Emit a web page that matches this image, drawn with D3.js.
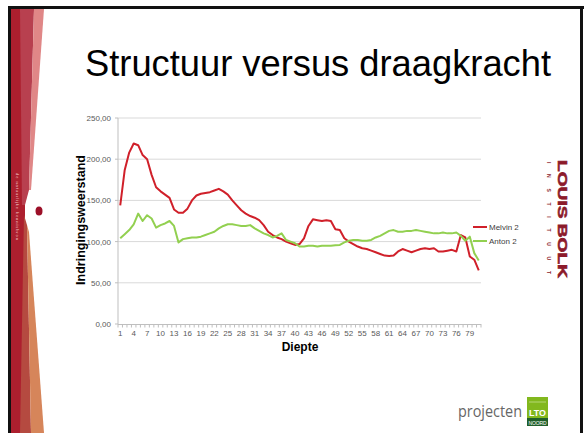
<!DOCTYPE html>
<html>
<head>
<meta charset="utf-8">
<script src="https://cdn.jsdelivr.net/npm/d3@7"></script>
<style>
  body { margin: 0; background: #fff; }
  svg { display: block; font-family: Arial, "Liberation Sans", sans-serif; }
</style>
</head>
<body>
<svg id="slide" width="587" height="433"></svg>
<script>
// slide: indringingsweerstand per diepte, two measuring points

let width = 587, height = 433

var depths = [1,2,3,4,5,6,7,8,9,10,11,12,13,14,15,16,17,18,19,20,
    21,22,23,24,25,26,27,28,29,30,31,32,33,34,35,36,37,38,39,40,
    41,42,43,44,45,46,47,48,49,50,51,52,53,54,55,56,57,58,59,60,
    61,62,63,64,65,66,67,68,69,70,71,72,73,74,75,76,77,78,79,80,81]

var xTickLabels = [1,4,7,10,13,16,19,22,25,28,31,34,37,40,43,46,49,52,55,58,61,64,67,70,73,76,79]
var yTicks = [0, 50, 100, 150, 200, 250]

var melvin = [144,187,208,219,217,205,200,181,166,161,
    157,153,139,135,135,140,150,156,158,159,
    160,162,164,161,157,150,144,138,134,131,
    129,126,120,112,108,105,103,100,98,96,
    97,104,119,127,126,125,126,125,115,114,
    104,100,97,94,92,91,89,87,85,83,
    82.5,83,88,91,89,87,89,91,92,91,
    92,88,88,89,90,88,108,105,82,78,65]

var anton = [104,109,114,121,134,125,132,128,117,120,
    122,125,119,99,103,104,105,105,106,108,
    110,112,116,119,121,121,120,119,119,120,
    116,113,110,108,105,107,110,102,100,98,
    94,94,95,95,94,95,95,95,95.5,96,
    99,101,102,102,101,101,102,105,107,110,
    113,114,112,112,113,113,114,113,112,111,
    110,110,111,110,110,111,107,101,106,86,77]

var seriesNames = ['Melvin 2', 'Anton 2']
var seriesColors = ['#d0202a', '#92d050']

var svg = d3.select('#slide')

// slide frame + left decoration strip
function drawSlide() {
    svg.append('rect').attr('x', 0).attr('y', 0).attr('width', width).attr('height', height).attr('fill', '#fff')

    var strip = svg.append('g')
    strip.append('rect').attr('x', 11).attr('y', 9).attr('width', 14).attr('height', height - 9).attr('fill', '#ad1f2e')
    strip.append('polygon').attr('points', '20,9 34,9 29,190 25,205 22,205').attr('fill', '#b8404f')
    strip.append('polygon').attr('points', '34,9 44,9 31,190 29,190').attr('fill', '#e08787')
    strip.append('polygon').attr('points', '20,433 31,433 27,225 24,215').attr('fill', '#b54a40')
    strip.append('polygon').attr('points', '31,433 44,433 29,232 27,225').attr('fill', '#d6855a')
    strip.append('ellipse').attr('cx', 39).attr('cy', 211).attr('rx', 3.5).attr('ry', 4.5).attr('fill', '#9c1028')
    strip.append('text')
        .attr('transform', 'translate(16,173) rotate(90)')
        .attr('font-size', 4).attr('fill', '#f2c4c4')
        .attr('textLength', 67)
        .text('de natuurlijke kennisbron')

    // black frame
    svg.append('rect').attr('x', 8).attr('y', 6).attr('width', 576).attr('height', 3).attr('fill', '#111')
    svg.append('rect').attr('x', 8).attr('y', 6).attr('width', 3).attr('height', height - 6).attr('fill', '#111')
    svg.append('rect').attr('x', 580).attr('y', 6).attr('width', 3).attr('height', height - 6).attr('fill', '#111')

    svg.append('text')
        .attr('x', 85).attr('y', 76)
        .attr('font-size', 36.3).attr('fill', '#000')
        .text('Structuur versus draagkracht')
}

function drawChart() {
    var x = d3.scaleBand().domain(depths).range([118, 481])
    var y = d3.scaleLinear().domain([0, 250]).range([324, 118])
    var bw = x.bandwidth()
    var fmt = d3.formatLocale({decimal: ',', thousands: '.', grouping: [3], currency: ['€', '']}).format('.2f')

    var g = svg.append('g')

    // gridlines
    g.selectAll('.grid')
        .data(yTicks.filter(d => d > 0))
        .enter().append('line')
        .attr('x1', 118).attr('x2', 481)
        .attr('y1', d => y(d)).attr('y2', d => y(d))
        .attr('stroke', '#d9d9d9').attr('stroke-width', 1)

    // axis lines
    g.append('line').attr('x1', 118).attr('x2', 118).attr('y1', 118).attr('y2', 324).attr('stroke', '#bfbfbf')
    g.append('line').attr('x1', 118).attr('x2', 481).attr('y1', 324.5).attr('y2', 324.5).attr('stroke', '#bfbfbf')

    g.selectAll('.ytick')
        .data(yTicks)
        .enter().append('line')
        .attr('x1', 115).attr('x2', 118)
        .attr('y1', d => y(d)).attr('y2', d => y(d))
        .attr('stroke', '#bfbfbf')

    g.selectAll('.ylab')
        .data(yTicks)
        .enter().append('text')
        .attr('x', 111).attr('y', d => y(d) + 3)
        .attr('text-anchor', 'end')
        .attr('font-size', 8).attr('fill', '#595959')
        .text(d => fmt(d))

    // category tick marks sit between categories
    g.selectAll('.xtick')
        .data(depths.concat([82]))
        .enter().append('line')
        .attr('x1', d => d == 82 ? 481 : x(d)).attr('x2', d => d == 82 ? 481 : x(d))
        .attr('y1', 324).attr('y2', 327.5)
        .attr('stroke', '#bfbfbf')

    g.selectAll('.xlab')
        .data(xTickLabels)
        .enter().append('text')
        .attr('x', d => x(d) + bw / 2).attr('y', 336)
        .attr('text-anchor', 'middle')
        .attr('font-size', 8).attr('fill', '#595959')
        .text(d => d)

    g.append('text')
        .attr('transform', 'translate(84.5,220) rotate(-90)')
        .attr('text-anchor', 'middle')
        .attr('font-size', 12.5).attr('font-weight', 'bold')
        .text('Indringingsweerstand')

    g.append('text')
        .attr('x', 300).attr('y', 351)
        .attr('text-anchor', 'middle')
        .attr('font-size', 12).attr('font-weight', 'bold')
        .text('Diepte')

    var line = d3.line()
        .x((d, i) => x(depths[i]) + bw / 2)
        .y(d => y(d))

    var series = [melvin, anton]
    g.selectAll('.series')
        .data(series)
        .enter().append('path')
        .attr('d', d => line(d))
        .attr('fill', 'none')
        .attr('stroke', (d, i) => seriesColors[i])
        .attr('stroke-width', 2)
        .attr('stroke-linejoin', 'round')

    // legend
    var leg = g.selectAll('.legend')
        .data(seriesNames)
        .enter().append('g')
        .attr('transform', (d, i) => 'translate(473,' + (227 + i * 14) + ')')
    leg.append('line').attr('x1', 0).attr('x2', 14).attr('stroke', (d, i) => seriesColors[i]).attr('stroke-width', 2)
    leg.append('text').attr('x', 16).attr('y', 3).attr('font-size', 8).attr('fill', '#404040').text(d => d)
}

function drawLogos() {
    // Louis Bolk Instituut, rotated
    svg.append('text')
        .attr('transform', 'translate(558,160) rotate(90)')
        .attr('font-size', 13.5).attr('font-weight', 'bold').attr('fill', '#8c1a2b')
        .attr('stroke', '#8c1a2b').attr('stroke-width', 0.6)
        .attr('textLength', 118).attr('lengthAdjust', 'spacingAndGlyphs')
        .text('LOUIS BOLK')
    svg.append('text')
        .attr('transform', 'translate(547,162) rotate(90)')
        .attr('font-size', 5).attr('font-weight', 'bold').attr('fill', '#8c1a2b')
        .attr('textLength', 112)
        .text('INSTITUUT')

    svg.append('text')
        .attr('x', 458).attr('y', 417)
        .attr('font-family', '"Open Sans", sans-serif')
        .attr('font-size', 16).attr('fill', '#666')
        .attr('textLength', 64).attr('lengthAdjust', 'spacingAndGlyphs')
        .text('projecten')

    svg.append('rect').attr('x', 527).attr('y', 397).attr('width', 21).attr('height', 21).attr('fill', '#82b81e')
    svg.append('line').attr('x1', 529).attr('x2', 546).attr('y1', 402).attr('y2', 402).attr('stroke', '#d8ecb0').attr('stroke-width', 0.6)
    svg.append('rect').attr('x', 527).attr('y', 418).attr('width', 21).attr('height', 8).attr('fill', '#1f5e2a')
    svg.append('text').attr('x', 537.5).attr('y', 416).attr('text-anchor', 'middle')
        .attr('font-size', 8.5).attr('font-weight', 'bold').attr('fill', '#fff')
        .attr('textLength', 17).attr('lengthAdjust', 'spacingAndGlyphs').text('LTO')
    svg.append('text').attr('x', 537.5).attr('y', 424.5).attr('text-anchor', 'middle')
        .attr('font-size', 5).attr('fill', '#fff').attr('textLength', 18).text('NOORD')
}

drawSlide()
drawChart()
drawLogos()
</script>
</body>
</html>
